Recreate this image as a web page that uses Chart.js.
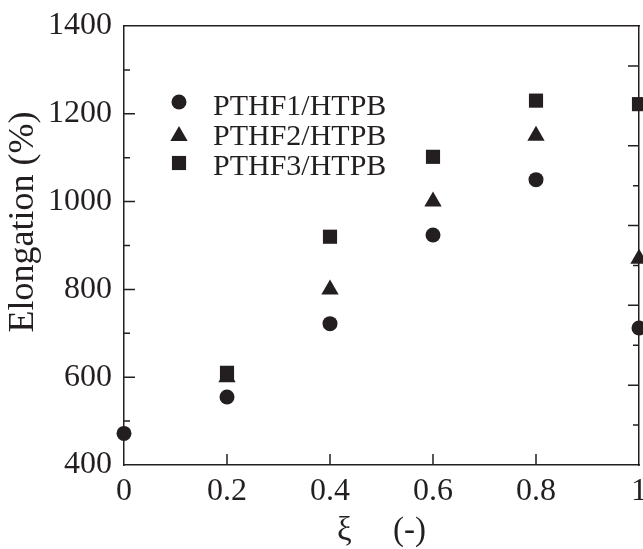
<!DOCTYPE html>
<html>
<head>
<meta charset="utf-8">
<script src="https://cdn.jsdelivr.net/npm/chart.js@4.4.1/dist/chart.umd.min.js"></script>
<style>
html, body { margin: 0; padding: 0; background: #fff; }
</style>
</head>
<body>
<canvas id="elongation" width="643" height="549"></canvas>
<script>
const xi = [0, 0.2, 0.4, 0.6, 0.8, 1.0]
const pthf1 = [472, 555, 722, 924, 1050, 712]
const pthf2 = [null, 600, 800, 1000, 1150, 870]
const pthf3 = [null, 610, 920, 1102, 1230, 1222]
const seriesNames = ['PTHF1/HTPB', 'PTHF2/HTPB', 'PTHF3/HTPB']

const xTicks = [0, 0.2, 0.4, 0.6, 0.8, 1]
const xTickLabels = ['0', '0.2', '0.4', '0.6', '0.8', '1']
const yTicks = [400, 600, 800, 1000, 1200, 1400]
const yTickLabels = ['400', '600', '800', '1000', '1200', '1400']
const yMinorTicks = [500, 700, 900, 1100, 1300]
const rightTicks = [1, 2, 3, 4, 5]
const rightMinorTicks = [0.5, 1.5, 2.5, 3.5, 4.5]
const xTitle = 'ξ     (-)'
const yTitle = 'Elongation (%)'

const ink = '#231f20'
const serif = "'Liberation Serif', 'Times New Roman', serif"

const toPoints = ys => xi.map((x, i) => ({ x: x, y: ys[i] }))

// fixed axis sizes, no automatic label padding
const fixSize = (w, h) => s => {
    if (w !== null) s.width = w
    if (h !== null) s.height = h
    s.paddingLeft = 0
    s.paddingRight = 0
    s.paddingTop = 0
    s.paddingBottom = 0
}

// inward tick marks, legend and axis titles
const frameTicks = {
    id: 'frameTicks',
    beforeDatasetsDraw(chart) {
        const ctx = chart.ctx
        const { left, right, bottom } = chart.chartArea
        const y = chart.scales.y
        const x = chart.scales.x
        const y2 = chart.scales.y2
        ctx.save()
        ctx.strokeStyle = ink
        ctx.lineWidth = 1.5
        ctx.beginPath()
        yTicks.slice(1, -1).forEach(v => {
            const p = y.getPixelForValue(v)
            ctx.moveTo(left, p); ctx.lineTo(left + 11, p)
        })
        yMinorTicks.forEach(v => {
            const p = y.getPixelForValue(v)
            ctx.moveTo(left, p); ctx.lineTo(left + 6, p)
        })
        xTicks.slice(1, -1).forEach(v => {
            const p = x.getPixelForValue(v)
            ctx.moveTo(p, bottom); ctx.lineTo(p, bottom - 11)
        })
        rightTicks.forEach(v => {
            const p = y2.getPixelForValue(v)
            ctx.moveTo(right, p); ctx.lineTo(right - 11, p)
        })
        rightMinorTicks.forEach(v => {
            const p = y2.getPixelForValue(v)
            ctx.moveTo(right, p); ctx.lineTo(right - 6, p)
        })
        ctx.stroke()
        ctx.restore()
    },
    afterDraw(chart) {
        const ctx = chart.ctx
        const area = chart.chartArea
        ctx.save()
        ctx.fillStyle = ink
        ctx.strokeStyle = ink

        // legend
        const markerY = [102, 136, 163]
        const textY = [115, 145, 175]
        ctx.font = '30px ' + serif
        ctx.textAlign = 'left'
        ctx.textBaseline = 'alphabetic'
        chart.data.datasets.forEach((ds, row) => {
            Chart.helpers.drawPoint(ctx, {
                pointStyle: ds.pointStyle,
                radius: ds.pointRadius,
                rotation: 0,
                borderWidth: 0
            }, area.left + 55, markerY[row])
            ctx.fillText(ds.label, area.left + 89, textY[row])
        })

        // axis titles
        ctx.font = '33px ' + serif
        ctx.textAlign = 'center'
        ctx.fillText(xTitle, (area.left + area.right) / 2, 540)

        ctx.font = '36px ' + serif
        ctx.translate(33, 222)
        ctx.rotate(-Math.PI / 2)
        ctx.fillText(yTitle, 0, 0)
        ctx.restore()
    }
}

const context = document.getElementById('elongation').getContext('2d')

new Chart(context, {
    type: 'scatter',
    data: {
        datasets: [{
            label: seriesNames[0],
            data: toPoints(pthf1),
            pointStyle: 'circle',
            pointRadius: 7.5,
            order: 2
        }, {
            label: seriesNames[1],
            data: toPoints(pthf2),
            pointStyle: 'triangle',
            pointRadius: 10,
            order: 1
        }, {
            label: seriesNames[2],
            data: toPoints(pthf3),
            pointStyle: 'rect',
            pointRadius: 10,
            order: 0
        }].map(d => Object.assign(d, {
            backgroundColor: ink,
            borderColor: ink,
            borderWidth: 0,
            pointHoverRadius: d.pointRadius,
            clip: false
        }))
    },
    options: {
        responsive: false,
        animation: false,
        events: [],
        layout: { padding: 0, autoPadding: false },
        plugins: {
            legend: { display: false },
            tooltip: { enabled: false }
        },
        scales: {
            x: {
                type: 'linear',
                position: 'bottom',
                min: 0,
                max: 1,
                afterBuildTicks: s => { s.ticks = xTicks.map(v => ({ value: v })) },
                afterFit: fixSize(null, 84),
                grid: { display: false, drawTicks: false },
                border: { color: ink, width: 1.5 },
                ticks: {
                    color: ink,
                    padding: 7,
                    maxRotation: 0,
                    font: { family: serif, size: 32 },
                    callback: (v, i) => xTickLabels[i]
                }
            },
            x2: {
                type: 'linear',
                position: 'top',
                min: 0,
                max: 1,
                afterFit: fixSize(null, 26),
                grid: { display: false, drawTicks: false },
                border: { color: ink, width: 1.5 },
                ticks: { display: false }
            },
            y: {
                type: 'linear',
                position: 'left',
                min: 400,
                max: 1400,
                afterBuildTicks: s => { s.ticks = yTicks.map(v => ({ value: v })) },
                afterFit: fixSize(124, null),
                grid: { display: false, drawTicks: false },
                border: { color: ink, width: 1.5 },
                ticks: {
                    color: ink,
                    padding: 12,
                    font: { family: serif, size: 32 },
                    callback: (v, i) => yTickLabels[i]
                }
            },
            y2: {
                type: 'linear',
                position: 'right',
                min: 0,
                max: 5.5,
                afterFit: fixSize(4, null),
                grid: { display: false, drawTicks: false },
                border: { color: ink, width: 1.5 },
                ticks: { display: false }
            }
        }
    },
    plugins: [frameTicks]
});
</script>
</body>
</html>
